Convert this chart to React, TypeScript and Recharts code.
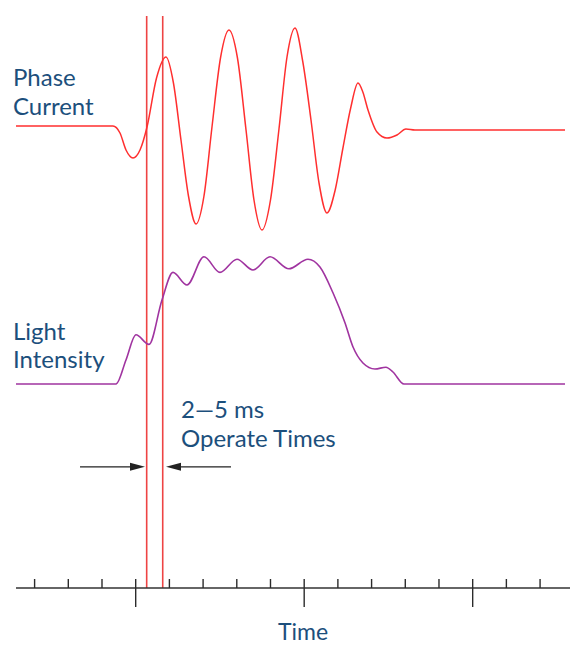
import { LineChart, Line, XAxis, YAxis, ReferenceLine } from "recharts";

// time in ms, one minor tick = 5 ms, major every 25 ms
const TIME_TICKS = [-15, -10, -5, 0, 5, 10, 15, 20, 25, 30, 35, 40, 45, 50, 55, 60];
const MAJOR_TICKS = [0, 25, 50];

// phase current (per unit of peak)
const CURRENT_T = [-17.76, -3.37, -2.33, -1.44, -0.4, 0.64, 1.68, 3.09, 4.5, 5.6, 6.72, 7.83, 8.95, 10.13, 11.32, 12.58, 13.84, 15.1, 16.37, 17.55, 18.74, 20.0, 21.26, 22.45, 23.64, 24.8, 26.01, 27.2, 28.38, 29.6, 30.75, 31.9, 32.98, 33.7, 34.47, 35.8, 37.28, 38.77, 40.1, 41.44, 63.7];
const CURRENT_V = [0.02, 0.02, -0.05, -0.22, -0.3, -0.22, 0.01, 0.5, 0.71, 0.45, -0.12, -0.68, -0.96, -0.68, 0.01, 0.7, 0.98, 0.7, -0.02, -0.72, -1.02, -0.72, -0.01, 0.71, 1.0, 0.66, 0.08, -0.55, -0.85, -0.62, -0.2, 0.2, 0.45, 0.36, 0.18, -0.04, -0.1, -0.07, -0.01, -0.02, -0.02];

// arc light intensity (relative)
const LIGHT_T = [-17.76, -2.92, -1.44, 0.04, 1.97, 3.9, 5.53, 7.61, 10.13, 12.51, 15.03, 17.4, 19.93, 22.74, 25.56, 27.34, 29.27, 31.05, 32.23, 33.72, 35.5, 37.13, 38.17, 39.8, 63.7];
const LIGHT_V = [0, 0, 0.2, 0.41, 0.33, 0.7, 0.93, 0.825, 1.06, 0.93, 1.04, 0.95, 1.06, 0.96, 1.04, 0.975, 0.76, 0.51, 0.31, 0.175, 0.125, 0.14, 0.1, 0, 0];

// relay operate instants
const OPERATE_T = [1.63, 4.01];
const ARROW_LEFT = [-8.26, 1.38];
const ARROW_RIGHT = [14.14, 4.5];
const ARROW_LEVEL = -0.69;

const currentData = CURRENT_T.map((t, i) => ({ t, v: CURRENT_V[i] }));
const lightData = LIGHT_T.map((t, i) => ({ t, v: LIGHT_V[i] }));

const TEXT = "#1c4f7c";
const FONT = "Lato, 'Open Sans', sans-serif";

function AxisTick(props: any) {
  const { x, y, payload } = props;
  const major = MAJOR_TICKS.includes(payload.value);
  return <line x1={x} x2={x} y1={y - 9} y2={major ? y + 19 : y} stroke="#2b2b2b" strokeWidth={1.4} />;
}

function Arrow(props: any) {
  const { x1, y1, x2, y2 } = props;
  const dir = x2 > x1 ? 1 : -1;
  const base = x2 - dir * 15;
  return (
    <g>
      <line x1={x1} y1={y1} x2={base} y2={y2} stroke="#222" strokeWidth={1.2} />
      <polygon points={`${x2},${y2} ${base},${y2 - 4} ${base},${y2 + 4}`} fill="#222" />
    </g>
  );
}

export default function App() {
  return (
    <div style={{ position: "absolute", left: 0, top: 0, width: 570, height: 646 }}>
      <LineChart width={570} height={646} margin={{ top: 0, right: 0, bottom: 0, left: 16 }}>
        <XAxis
          type="number"
          dataKey="t"
          domain={[-17.76, 64.44]}
          allowDataOverflow
          ticks={TIME_TICKS}
          tick={AxisTick}
          tickLine={false}
          tickSize={0}
          tickMargin={0}
          height={58}
          axisLine={{ stroke: "#333", strokeWidth: 1.5 }}
          label={{
            content: ({ viewBox }: any) => (
              <text x={viewBox.x + viewBox.width / 2 + 10} y={viewBox.y + 52} textAnchor="middle" fill={TEXT} fontSize={23} fontFamily={FONT}>
                Time
              </text>
            ),
          }}
        />
        <YAxis yAxisId="cur" hide domain={[-4.6, 1.28]} allowDataOverflow />
        <YAxis yAxisId="light" hide domain={[-1.7, 3.2]} allowDataOverflow />
        {OPERATE_T.map((t) => (
          <ReferenceLine
            key={t}
            yAxisId="cur"
            segment={[{ x: t, y: 1.12 }, { x: t, y: -4.6 }]}
            stroke="#ee4444"
            strokeWidth={1.6}
            ifOverflow="visible"
          />
        ))}
        <ReferenceLine
          yAxisId="light"
          segment={[{ x: ARROW_LEFT[0], y: ARROW_LEVEL }, { x: ARROW_LEFT[1], y: ARROW_LEVEL }]}
          shape={Arrow}
          ifOverflow="visible"
        />
        <ReferenceLine
          yAxisId="light"
          segment={[{ x: ARROW_RIGHT[0], y: ARROW_LEVEL }, { x: ARROW_RIGHT[1], y: ARROW_LEVEL }]}
          shape={Arrow}
          ifOverflow="visible"
        />
        <Line
          yAxisId="cur"
          data={currentData}
          dataKey="v"
          type="monotone"
          stroke="#ff2f2f"
          strokeWidth={1.5}
          dot={false}
          isAnimationActive={false}
        />
        <Line
          yAxisId="light"
          data={lightData}
          dataKey="v"
          type="monotone"
          stroke="#a034a0"
          strokeWidth={1.6}
          dot={false}
          isAnimationActive={false}
        />
      </LineChart>
      <svg width={570} height={646} style={{ position: "absolute", left: 0, top: 0, pointerEvents: "none" }}>
        <g fill={TEXT} fontSize={24} fontFamily={FONT}>
          <text x={13} y={86}>Phase</text>
          <text x={13} y={115}>Current</text>
          <text x={13} y={340}>Light</text>
          <text x={13} y={368}>Intensity</text>
          <text x={181} y={418}>2—5 ms</text>
          <text x={181} y={447}>Operate Times</text>
        </g>
      </svg>
    </div>
  );
}
